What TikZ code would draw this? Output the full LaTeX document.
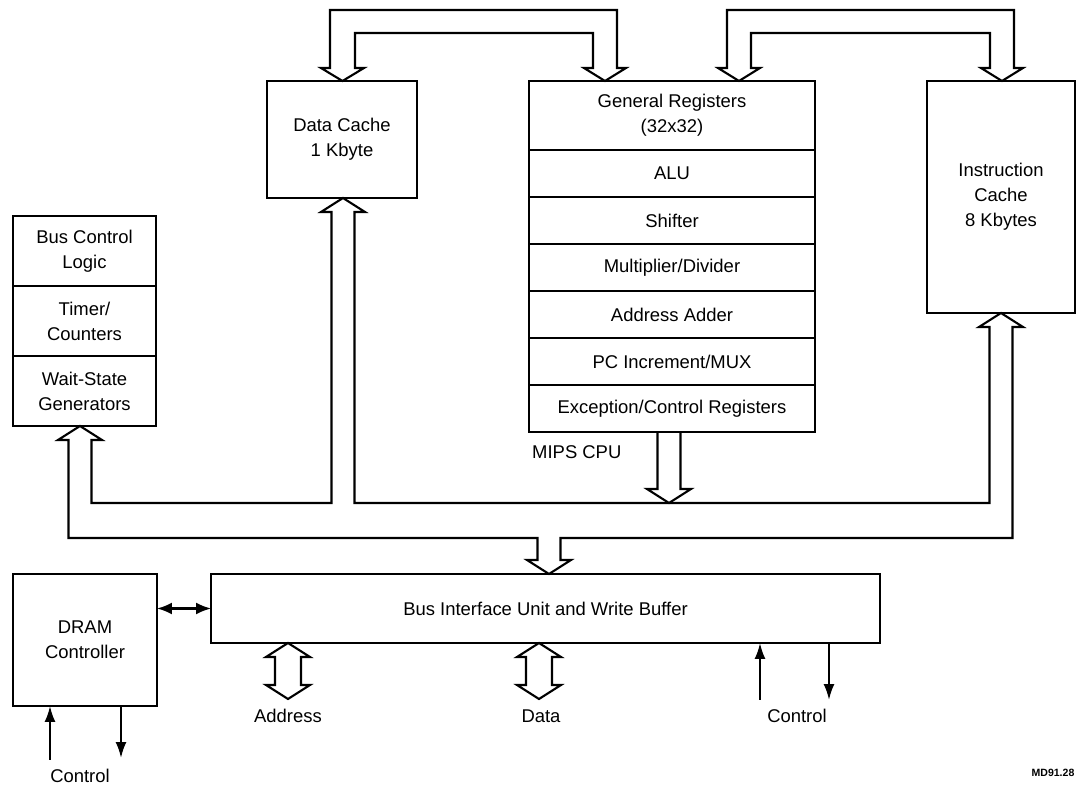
\documentclass[tikz,border=0pt]{standalone}
\usepackage{fontspec}
\setmainfont{Liberation Sans}
\usetikzlibrary{positioning,arrows.meta}

\begin{document}
\begin{tikzpicture}[x=0.02cm, y=-0.02cm,
    font=\fontsize{10.5}{14.2}\selectfont,
    blk/.style={draw, line width=1.2pt, outer sep=0pt, inner sep=0pt, align=center},
    cpurow/.style={blk, minimum width=5.72cm, minimum height=0.94cm},
    bcrow/.style={blk, minimum width=2.86cm, minimum height=1.4cm},
    bus/.style={line width=1.2pt, line join=miter},
    sig/.style={line width=1.2pt, -{Latex[length=0.32cm, width=0.22cm]}}]
    \useasboundingbox (0,0) rectangle (1079,786);

    % Data cache and instruction cache
    \node[blk, minimum width=3cm, minimum height=2.34cm] (dc) at (342,139.5) {Data Cache\\1 Kbyte};
    \node[blk, minimum width=2.96cm, minimum height=4.64cm] (ic) at (1001,197) {Instruction\\Cache\\8 Kbytes};

    % MIPS CPU stack
    \node[cpurow, minimum height=1.38cm] (gr) at (672,115.5) {General Registers\\(32x32)};
    \node[cpurow, below=0pt of gr] (alu) {ALU};
    \node[cpurow, below=0pt of alu] (shift) {Shifter};
    \node[cpurow, below=0pt of shift] (muldiv) {Multiplier/Divider};
    \node[cpurow, below=0pt of muldiv] (adder) {Address Adder};
    \node[cpurow, below=0pt of adder] (pcinc) {PC Increment/MUX};
    \node[cpurow, below=0pt of pcinc] (exc) {Exception/Control Registers};
    \node[anchor=west] (mips) at (526,452) {MIPS CPU};

    % Bus control block
    \node[bcrow] (bcl) at (84.5,251) {Bus Control\\Logic};
    \node[bcrow, below=0pt of bcl] (timer) {Timer/\\Counters};
    \node[bcrow, below=0pt of timer] (wait) {Wait-State\\Generators};

    % Bottom row
    \node[blk, minimum width=2.88cm, minimum height=2.64cm] (dram) at (85,640) {DRAM\\Controller};
    \node[blk, minimum width=13.38cm, minimum height=1.38cm] (biu) at (545.5,608.5) {Bus Interface Unit and Write Buffer};

    % Wide buses on top
    \draw[bus] (330,68) -- (330,10) -- (617,10) -- (617,68) -- (626,68) -- (605,81) -- (584,68) -- (593,68) -- (593,33) -- (355,33) -- (355,68) -- (364,68) -- (342.5,81) -- (321,68) -- cycle;
    \draw[bus] (727,68) -- (727,10) -- (1014,10) -- (1014,68) -- (1023,68) -- (1002,81) -- (981,68) -- (990,68) -- (990,33) -- (751,33) -- (751,68) -- (760,68) -- (739,81) -- (718,68) -- cycle;

    % Main bus below
    \draw[bus] (331.5,212) -- (321,212) -- (343,198) -- (365,212) -- (354.5,212) -- (354.5,503) -- (989.5,503) -- (989.5,327) -- (979,327) -- (1001,313) -- (1023,327) -- (1012.5,327) -- (1012.5,538) -- (560.5,538) -- (560.5,560) -- (571,560) -- (549,574) -- (527,560) -- (537.5,560) -- (537.5,538) -- (68.5,538) -- (68.5,440) -- (58,440) -- (80,426) -- (102,440) -- (91.5,440) -- (91.5,503) -- (331.5,503) -- cycle;

    % CPU to bus
    \draw[bus] (657.5,432) -- (657.5,489) -- (647,489) -- (669,503) -- (691,489) -- (680.5,489) -- (680.5,432);

    % External address and data buses
    \draw[bus] (275,657) -- (266,657) -- (288,643) -- (310,657) -- (301,657) -- (301,685) -- (310,685) -- (288,699) -- (266,685) -- (275,685) -- cycle;
    \draw[bus] (526,657) -- (517,657) -- (539,643) -- (561,657) -- (552,657) -- (552,685) -- (561,685) -- (539,699) -- (517,685) -- (526,685) -- cycle;

    % Control lines
    \coordinate (cin) at (760,700);
    \coordinate (cout) at (829,700);
    \draw[sig] (cin) -- (cin |- biu.south);
    \draw[sig] (cout |- biu.south) -- (cout);
    \coordinate (din) at (50,760);
    \coordinate (dout) at (121,758);
    \draw[sig] (din) -- (din |- dram.south);
    \draw[sig] (dout |- dram.south) -- (dout);
    \draw[line width=1.2pt, {Latex[length=0.3cm,width=0.24cm]}-{Latex[length=0.3cm,width=0.24cm]}] (biu.west -| dram.east) -- (biu.west);

    % Labels
    \node (addrlbl) at (288,716) {Address};
    \node (datalbl) at (541,716) {Data};
    \node (ctllbl) at (797,716) {Control};
    \node (dctllbl) at (80,776) {Control};
    \node[font=\fontsize{6}{7}\selectfont\bfseries] (tag) at (1053,773) {MD91.28};
\end{tikzpicture}
\end{document}
